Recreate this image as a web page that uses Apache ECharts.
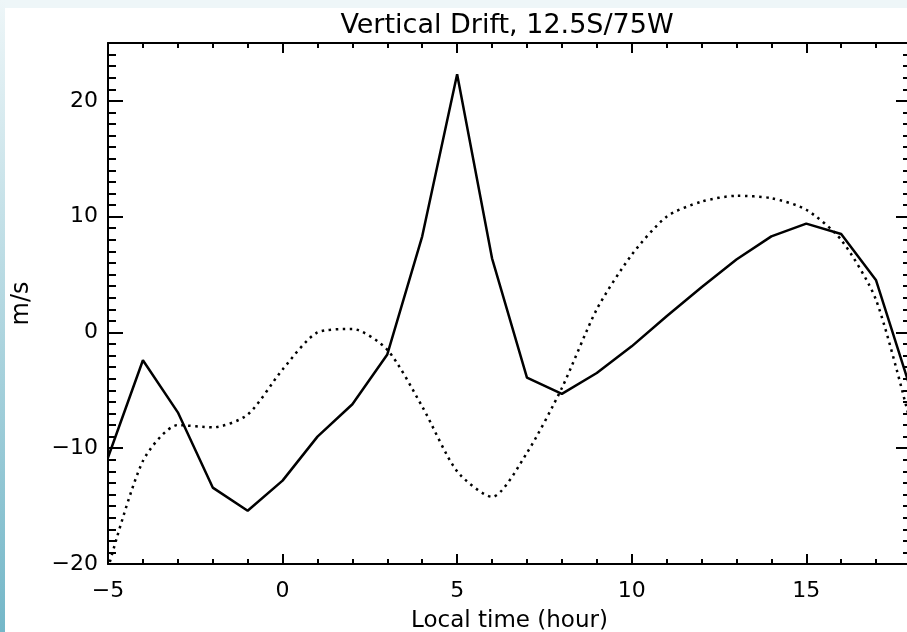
<!DOCTYPE html>
<html>
<head>
<meta charset="utf-8">
<title>Vertical Drift</title>
<script src="https://cdn.jsdelivr.net/npm/echarts@6/dist/echarts.min.js"></script>
<style>
html, body { margin: 0; padding: 0; background: #fff; }
#main { width: 907px; height: 632px; }
</style>
</head>
<body>
<div id="main"></div>
<script>
// local time (hour) and the two drift curves, m/s
var hours = [-5, -4, -3, -2, -1, 0, 1, 2, 3, 4, 5, 6, 7, 8, 9, 10, 11, 12, 13, 14, 15, 16, 17, 18];
var solidDrift = [-10.8, -2.4, -6.9, -13.4, -15.4, -12.8, -9.0, -6.2, -1.9, 8.3, 22.3, 6.4,
	-3.9, -5.3, -3.5, -1.2, 1.4, 3.9, 6.3, 8.3, 9.4, 8.5, 4.5, -5.0];
var dottedDrift = [-20.4, -11.1, -8.0, -8.2, -7.1, -3.2, 0.0, 0.3, -1.5, -6.4, -12.0, -14.2,
	-10.4, -4.8, 2.0, 6.7, 10.0, 11.3, 11.8, 11.6, 10.6, 8.0, 2.8, -8.0];
var xTickLabels = [-5, 0, 5, 10, 15];
var yTickLabels = [-20, -10, 0, 10, 20];

var xMin = -5, xMax = 18;
var yMin = -20, yMax = 25;
var font = 'DejaVu Sans';

function pairs(ys) {
	return hours.map(function(h, i) {
		return [h, ys[i]];
	});
}

function minus(v) {
	return String(v).replace('-', '\u2212');
}

// one axis per side for the long ticks, one more for the short ticks
function makeXAxis(pos, interval, tickLen, withLabels) {
	var ax = {
		type: 'value',
		position: pos,
		min: xMin,
		max: xMax,
		interval: interval,
		axisLine: { show: interval != 1, onZero: false, lineStyle: { color: '#000', width: 2 } },
		axisTick: { show: true, inside: true, length: tickLen, lineStyle: { color: '#000', width: 2 } },
		axisLabel: { show: false },
		splitLine: { show: false }
	};
	if (withLabels) {
		ax.axisLabel = {
			show: true,
			margin: 16,
			color: '#000',
			fontFamily: font,
			fontSize: 22,
			formatter: function(v) {
				return xTickLabels.indexOf(v) >= 0 ? minus(v) : '';
			}
		};
		ax.name = 'Local time (hour)';
		ax.nameLocation = 'middle';
		ax.nameGap = 46;
		ax.nameTextStyle = { color: '#000', fontFamily: font, fontSize: 23 };
	}
	return ax;
}

function makeYAxis(pos, interval, tickLen, withLabels) {
	var ax = {
		type: 'value',
		position: pos,
		min: yMin,
		max: yMax,
		interval: interval,
		axisLine: { show: interval != 1, onZero: false, lineStyle: { color: '#000', width: 2 } },
		axisTick: { show: true, inside: true, length: tickLen, lineStyle: { color: '#000', width: 2 } },
		axisLabel: { show: false },
		splitLine: { show: false }
	};
	if (withLabels) {
		ax.axisLabel = {
			show: true,
			margin: 10,
			color: '#000',
			fontFamily: font,
			fontSize: 22,
			formatter: function(v) {
				return yTickLabels.indexOf(v) >= 0 ? minus(v) : '';
			}
		};
		ax.name = 'm/s';
		ax.nameLocation = 'middle';
		ax.nameGap = 74;
		ax.nameTextStyle = { color: '#000', fontFamily: font, fontSize: 24 };
	}
	return ax;
}

var myChart = echarts.init(document.getElementById('main'), null, { renderer: 'canvas' });

myChart.setOption({
	backgroundColor: '#fff',
	animation: false,
	title: {
		text: 'Vertical Drift, 12.5S/75W',
		left: 507,
		top: 12,
		padding: 0,
		textAlign: 'center',
		textStyle: { color: '#000', fontFamily: font, fontSize: 27, fontWeight: 'normal' }
	},
	graphic: [
		{
			type: 'rect',
			left: 0, top: 0, z: -10,
			shape: { width: 907, height: 8 },
			style: { fill: '#eef6f8' }
		},
		{
			type: 'rect',
			left: 0, top: 0, z: -10,
			shape: { width: 5, height: 632 },
			style: {
				fill: new echarts.graphic.LinearGradient(0, 0, 0, 1, [
					{ offset: 0, color: '#eef6f8' },
					{ offset: 1, color: '#74b7c8' }
				])
			}
		}
	],
	grid: {
		left: 108,
		top: 43,
		width: 803,
		height: 521,
		containLabel: false,
		outerBoundsMode: 'none'
	},
	xAxis: [
		makeXAxis('bottom', 5, 10, true),
		makeXAxis('bottom', 1, 5, false),
		makeXAxis('top', 5, 10, false),
		makeXAxis('top', 1, 5, false)
	],
	yAxis: [
		makeYAxis('left', 10, 15, true),
		makeYAxis('left', 1, 8, false),
		makeYAxis('right', 10, 15, false),
		makeYAxis('right', 1, 8, false)
	],
	series: [
		{
			type: 'line',
			xAxisIndex: 0,
			yAxisIndex: 0,
			data: pairs(solidDrift),
			showSymbol: false,
			lineStyle: { color: '#000', width: 2.5 }
		},
		{
			type: 'line',
			xAxisIndex: 0,
			yAxisIndex: 0,
			data: pairs(dottedDrift),
			smooth: 0.25,
			showSymbol: false,
			lineStyle: { color: '#000', width: 2.5, type: [2.5, 4.5], cap: 'butt' }
		}
	]
});
</script>
</body>
</html>
